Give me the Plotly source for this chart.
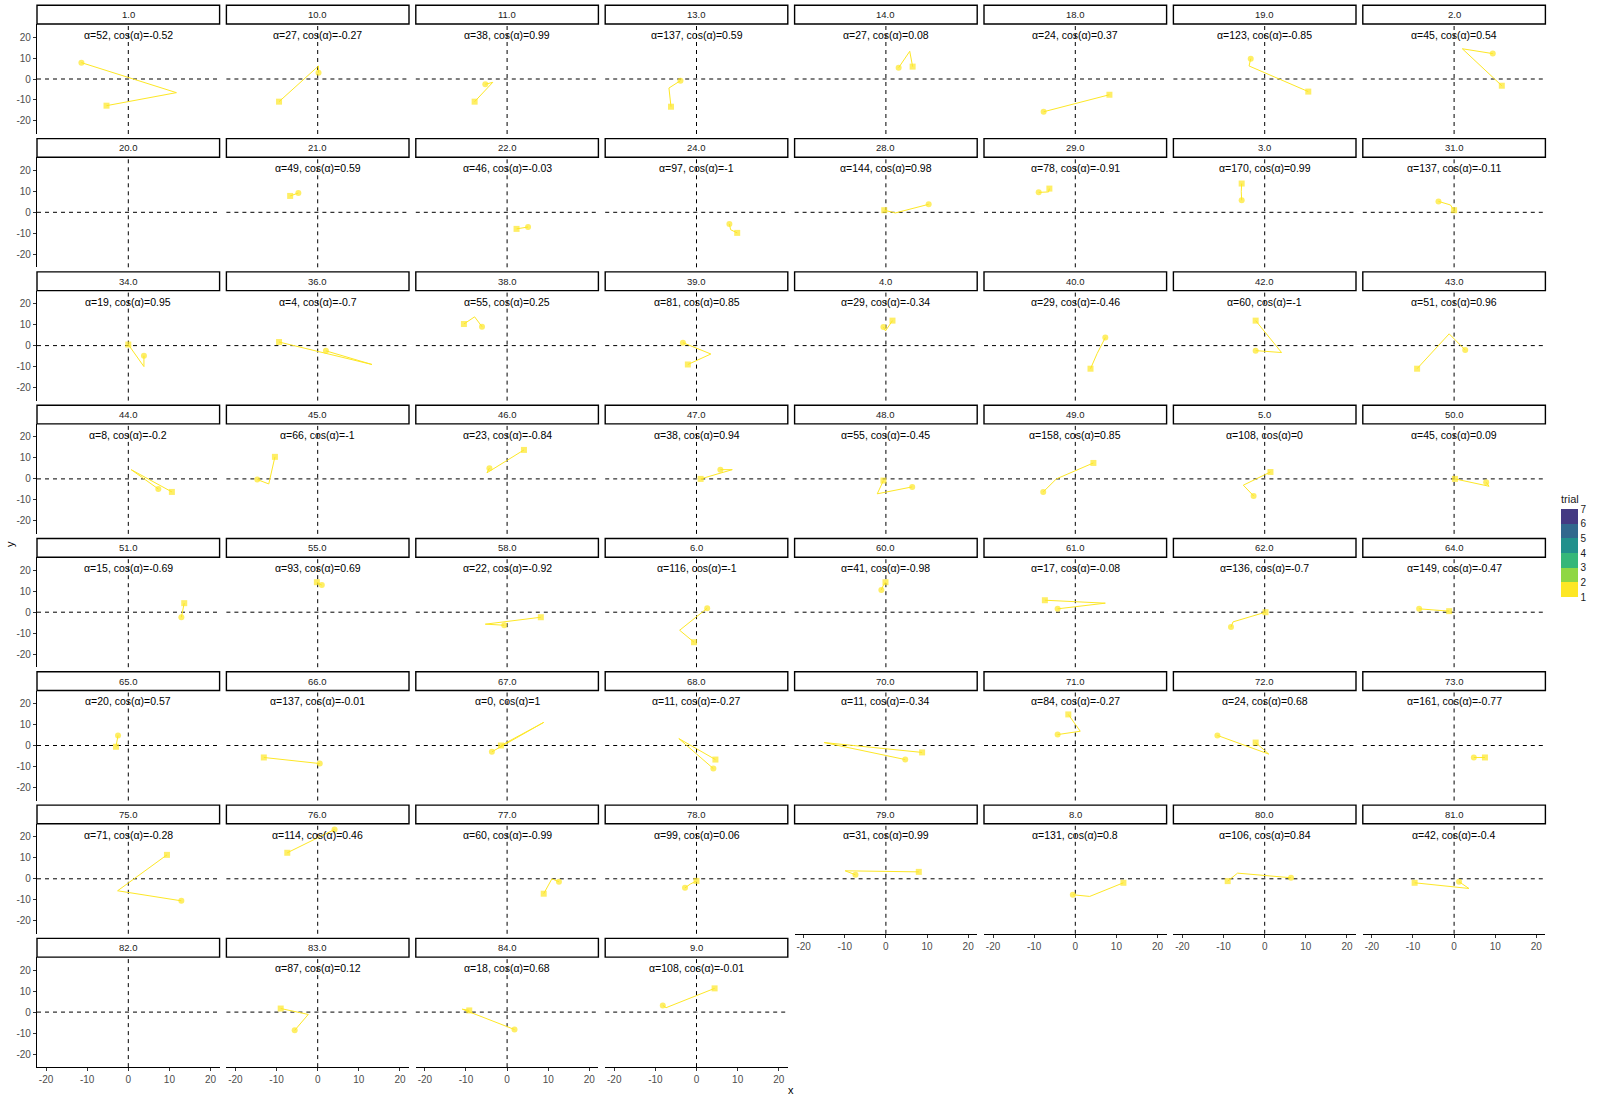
import plotly.graph_objects as go

# ---------------- data ----------------
labels = ["1.0", "10.0", "11.0", "13.0", "14.0", "18.0", "19.0", "2.0",
          "20.0", "21.0", "22.0", "24.0", "28.0", "29.0", "3.0", "31.0",
          "34.0", "36.0", "38.0", "39.0", "4.0", "40.0", "42.0", "43.0",
          "44.0", "45.0", "46.0", "47.0", "48.0", "49.0", "5.0", "50.0",
          "51.0", "55.0", "58.0", "6.0", "60.0", "61.0", "62.0", "64.0",
          "65.0", "66.0", "67.0", "68.0", "70.0", "71.0", "72.0", "73.0",
          "75.0", "76.0", "77.0", "78.0", "79.0", "8.0", "80.0", "81.0",
          "82.0", "83.0", "84.0", "9.0"]

alpha = [52, 27, 38, 137, 27, 24, 123, 45,
         None, 49, 46, 97, 144, 78, 170, 137,
         19, 4, 55, 81, 29, 29, 60, 51,
         8, 66, 23, 38, 55, 158, 108, 45,
         15, 93, 22, 116, 41, 17, 136, 149,
         20, 137, 0, 11, 11, 84, 24, 161,
         71, 114, 60, 99, 31, 131, 106, 42,
         None, 87, 18, 108]

cos_alpha = ["-0.52", "-0.27", "0.99", "0.59", "0.08", "0.37", "-0.85", "0.54",
             None, "0.59", "-0.03", "-1", "0.98", "-0.91", "0.99", "-0.11",
             "0.95", "-0.7", "0.25", "0.85", "-0.34", "-0.46", "-1", "0.96",
             "-0.2", "-1", "-0.84", "0.94", "-0.45", "0.85", "0", "0.09",
             "-0.69", "0.69", "-0.92", "-1", "-0.98", "-0.08", "-0.7", "-0.47",
             "0.57", "-0.01", "1", "-0.27", "-0.34", "-0.27", "0.68", "-0.77",
             "-0.28", "0.46", "-0.99", "0.06", "0.99", "0.8", "0.84", "-0.4",
             None, "0.12", "0.68", "-0.01"]

# start point (circle), turning point, end point (square)
x_start = [-11.4, 0.2, -5.3, -3.9, 3.1, -7.7, -3.4, 9.4,
           None, -4.7, 5.1, 8.0, 10.4, -8.9, -5.6, -3.8,
           3.8, 2.0, -6.1, -3.3, -0.6, 7.3, -2.2, 2.7,
           7.3, -14.7, -4.3, 5.8, 6.4, -7.8, -2.7, 7.8,
           12.9, 1.0, -0.7, 2.6, -1.1, -4.3, -8.2, -8.5,
           -2.5, 0.5, -3.7, 4.1, 4.7, -4.3, -11.5, 4.8,
           12.9, 4.1, 12.6, -2.8, -7.4, -0.6, 6.4, 1.2,
           None, -5.6, 1.8, -8.2]
y_start = [7.8, 3.0, -2.5, -0.8, 5.4, -15.6, 9.7, 12.1,
           None, 9.2, -7.0, -5.6, 3.8, 9.5, 5.7, 5.2,
           -4.8, -2.5, 9.0, 1.4, 8.9, 3.8, -2.4, -2.1,
           -4.8, -0.3, 5.1, 4.4, -3.8, -6.2, -8.1, -1.6,
           -2.4, 12.9, -6.2, 1.9, 10.6, 1.6, -7.1, 1.6,
           4.8, -8.6, -3.0, -11.0, -6.7, 5.2, 4.8, -5.7,
           -10.5, 23.5, -1.4, -4.3, 1.9, -7.6, 0.5, -1.4,
           None, -8.7, -8.3, 3.2]
x_turn = [11.7, 0.2, -3.5, -6.7, 5.8, 0.5, -3.8, 2.0,
          None, -5.7, 3.7, 8.3, 2.3, -6.5, -5.7, -0.9,
          3.8, 13.2, -7.9, 3.5, -0.1, 5.3, 4.1, -1.2,
          0.7, -11.9, -4.9, 8.7, -2.1, -4.6, -5.2, 8.5,
          13.2, 0.4, -5.3, -4.1, -0.7, 7.3, -7.7, -4.7,
          -2.7, -6.3, 8.9, -4.3, -15.0, 1.2, 1.0, 6.2,
          -2.6, -1.7, 10.9, -1.5, -9.9, 3.5, -6.6, 3.6,
          None, -2.3, -10.9, -7.4]
y_turn = [-6.5, 6.2, -1.6, -4.3, 13.2, -11.5, 6.2, 14.4,
          None, 8.4, -7.5, -8.3, -0.3, 9.7, 9.8, 3.5,
          -10.0, -9.0, 13.7, -4.0, 7.0, -3.8, -3.3, 5.6,
          4.4, -2.4, 2.9, 4.4, -7.1, 0.0, -3.0, -3.5,
          1.0, 13.7, -5.7, -8.6, 12.5, 4.3, -4.6, 1.1,
          2.1, -7.1, 11.0, 3.3, 1.4, 6.8, -4.1, -5.7,
          -5.7, 17.8, 0.0, -2.5, 3.8, -8.4, 2.7, -4.6,
          None, -1.1, 1.4, 2.1]
x_end = [-5.3, -9.4, -7.9, -6.2, 6.5, 8.3, 10.6, 11.6,
         None, -6.7, 2.3, 9.9, -0.4, -6.3, -5.6, 0.0,
         0.0, -9.4, -10.5, -2.1, 1.6, 3.7, -2.2, -9.0,
         10.6, -10.4, 4.1, 1.0, -0.6, 4.4, 1.4, 0.2,
         13.6, -0.2, 8.2, -0.6, -0.1, -7.4, 0.2, -1.2,
         -3.0, -13.1, -1.5, 4.6, 8.8, -1.7, -2.2, 7.5,
         9.4, -7.4, 8.9, 0.0, 8.0, 11.7, -9.0, -9.6,
         None, -9.0, -9.2, 4.4]
y_end = [-12.7, -10.8, -10.8, -13.2, 5.9, -7.5, -6.0, -3.2,
         None, 7.8, -7.9, -9.8, 1.0, 11.3, 13.7, 1.0,
         0.5, 1.7, 10.3, -9.0, 11.9, -11.0, 11.9, -11.0,
         -6.2, 10.5, 13.8, 0.0, -0.8, 7.6, 3.3, 0.0,
         4.3, 14.3, -2.4, -14.3, 14.3, 5.7, 0.0, 0.5,
         -0.6, -5.7, 0.0, -6.7, -3.3, 14.8, 1.4, -5.7,
         11.4, 12.4, -7.1, -1.0, 3.3, -1.9, -1.1, -1.9,
         None, 1.7, 0.8, 11.3]

y_ticks = [-20, -10, 0, 10, 20]
x_ticks = [-20, -10, 0, 10, 20]
trial_levels = [1, 2, 3, 4, 5, 6, 7]
viridis_bins = ["#FDE725", "#8FD744", "#35B779", "#21908C", "#31688E", "#443A83"]

# ---------------- layout geometry (pixels) ----------------
W, H = 1600, 1100
NCOL = 8
LEFT0, COLSTEP, PANW = 37.0, 189.4, 182.6
TOP0, ROWSTEP, STRIPH, PANH = 5.3, 133.3, 18.7, 110.0
XR = [-22.2, 22.2]
YR = [-26.2, 26.2]
YELLOW = "#FDE725"
FONT = "Liberation Sans, Arial, sans-serif"

fig = go.Figure()
layout = dict(
    width=W, height=H,
    margin=dict(l=0, r=0, t=0, b=0),
    paper_bgcolor="white", plot_bgcolor="white",
    showlegend=False,
    font=dict(family=FONT, size=10, color="#1A1A1A"),
)
shapes = []
annotations = []

n = len(labels)
for i in range(n):
    r, c = divmod(i, NCOL)
    k = i + 1
    xa = "x" if k == 1 else f"x{k}"
    ya = "y" if k == 1 else f"y{k}"
    left = LEFT0 + c * COLSTEP
    right = left + PANW
    stop = TOP0 + r * ROWSTEP
    ptop = stop + STRIPH
    pbot = ptop + PANH

    bottom_panel = (i + NCOL) >= n
    first_col = (c == 0)

    xaxis = dict(domain=[left / W, right / W], range=XR, anchor=ya,
                 showgrid=False, zeroline=False,
                 tickvals=x_ticks, ticktext=[str(v) for v in x_ticks],
                 tickfont=dict(size=10, color="#4D4D4D", family=FONT))
    if bottom_panel:
        xaxis.update(showline=True, linecolor="black", linewidth=1.2,
                     ticks="outside", ticklen=3, tickcolor="#333333", tickwidth=1,
                     showticklabels=True)
    else:
        xaxis.update(showline=False, ticks="", showticklabels=False)
    yaxis = dict(domain=[1 - pbot / H, 1 - ptop / H], range=YR, anchor=xa,
                 showgrid=False, zeroline=False,
                 tickvals=y_ticks, ticktext=[str(v) for v in y_ticks],
                 tickfont=dict(size=10, color="#4D4D4D", family=FONT))
    if first_col:
        yaxis.update(showline=True, linecolor="black", linewidth=1.2,
                     ticks="outside", ticklen=3, tickcolor="#333333", tickwidth=1,
                     showticklabels=True)
    else:
        yaxis.update(showline=False, ticks="", showticklabels=False)
    layout["xaxis" if k == 1 else f"xaxis{k}"] = xaxis
    layout["yaxis" if k == 1 else f"yaxis{k}"] = yaxis

    shapes.append(dict(type="line", xref=xa, yref=f"{ya} domain", x0=0, x1=0, y0=0, y1=1,
                       line=dict(color="black", width=1, dash="4px,4px"), layer="below"))
    shapes.append(dict(type="line", xref=f"{xa} domain", yref=ya, x0=0, x1=1, y0=0, y1=0,
                       line=dict(color="black", width=1, dash="4px,4px"), layer="below"))

    shapes.append(dict(type="rect", xref="paper", yref="paper",
                       x0=left / W, x1=right / W, y0=1 - ptop / H, y1=1 - stop / H,
                       line=dict(color="black", width=1.4), fillcolor="white", layer="above"))
    annotations.append(dict(xref="paper", yref="paper", x=(left + right) / 2 / W,
                            y=1 - (stop + ptop) / 2 / H, text=labels[i], showarrow=False,
                            font=dict(size=9.5, color="#1A1A1A", family=FONT),
                            xanchor="center", yanchor="middle"))

    if x_start[i] is None:
        continue

    fig.add_trace(go.Scatter(
        x=[x_start[i], x_turn[i], x_end[i]],
        y=[y_start[i], y_turn[i], y_end[i]],
        mode="lines+markers", xaxis=xa, yaxis=ya,
        line=dict(color=YELLOW, width=1),
        marker=dict(color=YELLOW, symbol=["circle", "circle", "square"], size=[6, 0, 6],
                    line=dict(width=0)),
        hoverinfo="skip", cliponaxis=False,
    ))
    annotations.append(dict(xref=xa, yref=ya, x=0, y=21,
                            text=f"α={alpha[i]}, cos(α)={cos_alpha[i]}",
                            showarrow=False, xanchor="center", yanchor="middle",
                            font=dict(size=10.5, color="black", family=FONT)))

# colour legend ("trial")
nb = len(viridis_bins)
cscale = []
for j, col in enumerate(viridis_bins):
    cscale.append([j / nb, col])
    cscale.append([(j + 1) / nb, col])
fig.add_trace(go.Scatter(
    x=[100], y=[100], mode="markers", xaxis="x", yaxis="y",
    marker=dict(color=[trial_levels[0]], cmin=trial_levels[0], cmax=trial_levels[-1],
                colorscale=cscale, showscale=True, size=1,
                colorbar=dict(
                    title=dict(text="trial", side="top",
                               font=dict(size=11, color="#1A1A1A", family=FONT)),
                    x=1561 / W, xanchor="left", y=1 - 597 / H, yanchor="bottom",
                    len=105, lenmode="pixels", thickness=17, thicknessmode="pixels",
                    xpad=0, ypad=0, outlinewidth=0,
                    tickvals=trial_levels, ticktext=[str(v) for v in trial_levels],
                    ticks="", ticklabelposition="outside",
                    tickfont=dict(size=10, color="#1A1A1A", family=FONT))),
    hoverinfo="skip", showlegend=False,
))

annotations.append(dict(xref="paper", yref="paper", x=791 / W, y=1 - 1090 / H, text="x",
                        showarrow=False, xanchor="center", yanchor="middle",
                        font=dict(size=11, color="black", family=FONT)))
annotations.append(dict(xref="paper", yref="paper", x=10 / W, y=1 - 544 / H, text="y",
                        showarrow=False, xanchor="center", yanchor="middle", textangle=-90,
                        font=dict(size=11, color="black", family=FONT)))

layout["shapes"] = shapes
layout["annotations"] = annotations
fig.update_layout(**layout)
fig.write_html("out.html")
